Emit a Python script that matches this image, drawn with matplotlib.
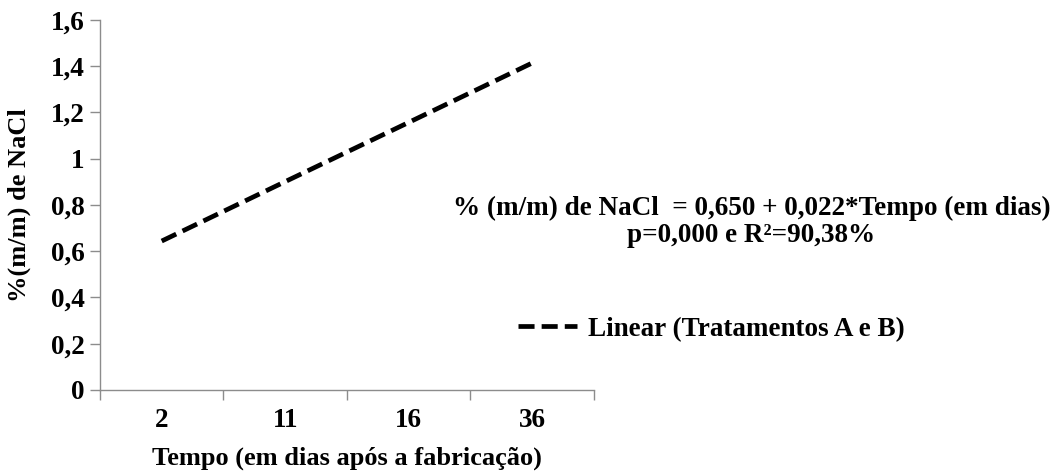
import matplotlib.pyplot as plt

# Data
dias = ['2', '11', '16', '36']
nacl_linear = [0.644, 0.901, 1.157, 1.414]
yticks = [0, 0.2, 0.4, 0.6, 0.8, 1.0, 1.2, 1.4, 1.6]
ytick_labels = ['0', '0,2', '0,4', '0,6', '0,8', '1', '1,2', '1,4', '1,6']

plt.rcParams['font.family'] = ['Liberation Serif', 'DejaVu Serif']
plt.rcParams['font.weight'] = 'bold'

fig = plt.figure(figsize=(10.59, 4.75), dpi=100)
ax = fig.add_axes([0.0944, 0.179, 0.4665, 0.779])

x = list(range(len(dias)))
line, = ax.plot(x, nacl_linear, color='black', lw=3.4, dashes=(3.4, 1.5),
                label='Linear (Tratamentos A e B)')

ax.set_xlim(-0.5, len(dias) - 0.5)
ax.set_ylim(0, 1.6)
ax.set_yticks(yticks)
ax.set_yticklabels(ytick_labels, fontsize=19.5, fontweight='bold')
ax.set_xticks(x)
ax.set_xticklabels(dias, fontsize=19.5, fontweight='bold')
ax.set_xticks([i - 0.5 for i in range(len(dias) + 1)], minor=True)
ax.tick_params(axis='x', which='major', length=0, pad=13)
ax.tick_params(axis='x', which='minor', length=7, color='#8c8c8c', width=1)
ax.tick_params(axis='y', length=7, color='#8c8c8c', width=1, pad=4)

for s in ['top', 'right']:
    ax.spines[s].set_visible(False)
for s in ['left', 'bottom']:
    ax.spines[s].set_color('#8c8c8c')
    ax.spines[s].set_linewidth(1)

ax.set_xlabel('Tempo (em dias após a fabricação)', fontsize=19, fontweight='bold')
ax.set_ylabel('%(m/m) de NaCl', fontsize=19, fontweight='bold')
ax.xaxis.set_label_coords(0.5, -0.152)
ax.yaxis.set_label_coords(-0.139, 0.5)

# Regression equation
fig.text(0.710, 0.562, '% (m/m) de NaCl  = 0,650 + 0,022*Tempo (em dias)',
         ha='center', va='center', fontsize=19.5, fontweight='bold')
fig.text(0.709, 0.505, 'p=0,000 e R²=90,38%',
         ha='center', va='center', fontsize=19.5, fontweight='bold')

fig.legend(handles=[line], loc='center left', bbox_to_anchor=(0.489, 0.307),
           frameon=False, handlelength=2.2, handletextpad=0.4,
           borderpad=0, borderaxespad=0,
           prop={'weight': 'bold', 'size': 19.5})

fig.savefig('out.png', dpi=100)
